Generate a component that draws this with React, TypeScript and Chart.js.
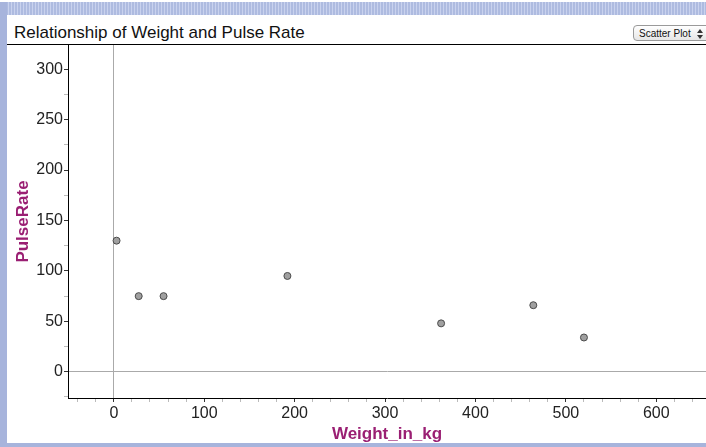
import React, { useEffect, useRef } from "react";
import { Chart, registerables } from "chart.js";

Chart.register(...registerables);

const weights = [3, 27.5, 55, 192, 362, 464, 520];
const pulseRates = [130, 75, 75, 95, 48, 66, 34];
const xTickValues = [-40, -20, 0, 20, 40, 60, 80, 100, 120, 140, 160, 180, 200, 220, 240, 260, 280, 300, 320, 340, 360, 380, 400, 420, 440, 460, 480, 500, 520, 540, 560, 580, 600, 620, 640];
const yTickValues = [-25, 0, 25, 50, 75, 100, 125, 150, 175, 200, 225, 250, 275, 300];
const chartTitle = "Relationship of Weight and Pulse Rate";
const xTitle = "Weight_in_kg";
const yTitle = "PulseRate";

const FONT = "'Liberation Sans', Arial, sans-serif";
const PURPLE = "#9a1f73";

export default function App() {
  const canvasRef = useRef<HTMLCanvasElement | null>(null);

  useEffect(() => {
    if (!canvasRef.current) return;
    const points = weights.map((w, i) => ({ x: w, y: pulseRates[i] }));
    const chart = new Chart(canvasRef.current, {
      type: "scatter",
      data: {
        datasets: [
          {
            data: points,
            backgroundColor: "#a0a0a0",
            borderColor: "#4a4a4a",
            borderWidth: 1,
            pointRadius: 3.5,
            pointHoverRadius: 3.5,
          },
        ],
      },
      options: {
        animation: false,
        responsive: false,
        maintainAspectRatio: false,
        layout: { padding: 0, autoPadding: false },
        plugins: { legend: { display: false }, tooltip: { enabled: false }, title: { display: false } },
        scales: {
          x: {
            type: "linear",
            position: "bottom",
            min: -50.7,
            max: 655,
            afterBuildTicks: (scale: any) => {
              scale.ticks = xTickValues.map((v) => ({ value: v }));
            },
            afterFit: (scale: any) => {
              scale.height = 47;
              scale.paddingLeft = 0;
              scale.paddingRight = 0;
            },
            ticks: {
              autoSkip: false,
              maxRotation: 0,
              padding: 2,
              color: "#222",
              font: { family: FONT, size: 16 },
              callback: (v: any) => (Number(v) % 100 === 0 ? String(v) : ""),
            },
            grid: {
              drawOnChartArea: true,
              drawTicks: true,
              tickLength: 4,
              color: (ctx: any) => (ctx.tick && ctx.tick.value === 0 ? "#aaaaaa" : "rgba(0,0,0,0)"),
              tickColor: (ctx: any) => (ctx.tick && ctx.tick.value % 100 === 0 ? "#333" : "#bbb"),
            },
            border: { display: true, color: "#000", width: 1 },
            title: {
              display: true,
              text: xTitle,
              color: PURPLE,
              font: { family: FONT, size: 17, weight: "bold" },
              padding: { top: 0, bottom: 0 },
            },
          },
          y: {
            type: "linear",
            position: "left",
            min: -26,
            max: 324,
            afterBuildTicks: (scale: any) => {
              scale.ticks = yTickValues.map((v) => ({ value: v }));
            },
            afterFit: (scale: any) => {
              scale.width = 60;
              scale.paddingTop = 0;
              scale.paddingBottom = 0;
            },
            ticks: {
              autoSkip: false,
              padding: 1,
              color: "#222",
              font: { family: FONT, size: 16 },
              callback: (v: any) => (Number(v) % 50 === 0 ? String(v) : ""),
            },
            grid: {
              drawOnChartArea: true,
              drawTicks: true,
              tickLength: 4,
              color: (ctx: any) => (ctx.tick && ctx.tick.value === 0 ? "#aaaaaa" : "rgba(0,0,0,0)"),
              tickColor: (ctx: any) => (ctx.tick && ctx.tick.value % 50 === 0 ? "#333" : "#bbb"),
            },
            border: { display: true, color: "#000", width: 1 },
            title: {
              display: true,
              text: yTitle,
              color: PURPLE,
              font: { family: FONT, size: 17, weight: "bold" },
              padding: { top: 5, bottom: 0 },
            },
          },
        },
      },
    });
    return () => chart.destroy();
  }, []);

  return (
    <div
      style={{
        position: "absolute",
        left: 0,
        top: 0,
        width: 706,
        height: 447,
        background: "#fff",
        overflow: "hidden",
        fontFamily: FONT,
      }}
    >
      {/* top dotted band */}
      <div
        style={{
          position: "absolute",
          left: 0,
          top: 2,
          width: 706,
          height: 13,
          background:
            "repeating-linear-gradient(90deg, #aebbe0 0px, #aebbe0 2px, #c9d2ee 2px, #c9d2ee 3px)",
        }}
      />
      {/* title */}
      <div
        style={{
          position: "absolute",
          left: 14,
          top: 23,
          fontSize: 17,
          lineHeight: "20px",
          color: "#111",
          whiteSpace: "nowrap",
        }}
      >
        {chartTitle}
      </div>
      {/* select box */}
      <div
        style={{
          position: "absolute",
          left: 633,
          top: 25,
          width: 80,
          height: 16,
          border: "1px solid #9a9a9a",
          borderRadius: 4,
          background: "linear-gradient(#ffffff, #e6e6e6)",
          fontSize: 10,
          lineHeight: "16px",
          color: "#111",
          paddingLeft: 5,
          boxSizing: "border-box",
          whiteSpace: "nowrap",
        }}
      >
        Scatter Plot
        <span style={{ position: "absolute", left: 63, top: 3, width: 0, height: 0, borderLeft: "3px solid transparent", borderRight: "3px solid transparent", borderBottom: "4px solid #333" }} />
        <span style={{ position: "absolute", left: 63, top: 9, width: 0, height: 0, borderLeft: "3px solid transparent", borderRight: "3px solid transparent", borderTop: "4px solid #333" }} />
      </div>
      {/* title underline */}
      <div style={{ position: "absolute", left: 7, top: 44, width: 699, height: 1, background: "#000" }} />
      <canvas
        ref={canvasRef}
        width={698}
        height={400}
        style={{ position: "absolute", left: 8, top: 45, width: 698, height: 400 }}
      />
      {/* left band */}
      <div style={{ position: "absolute", left: 0, top: 2, width: 7, height: 445, background: "#a7b4dc" }} />
      {/* bottom band */}
      <div style={{ position: "absolute", left: 0, top: 443, width: 706, height: 4, background: "#a7b4dc" }} />
    </div>
  );
}
